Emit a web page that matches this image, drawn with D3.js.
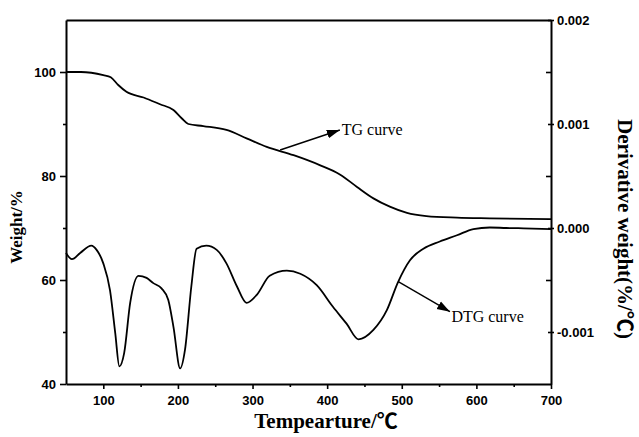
<!DOCTYPE html>
<html>
<head>
<meta charset="utf-8">
<script src="https://cdn.jsdelivr.net/npm/d3@7/dist/d3.min.js"></script>
<style>
  html, body { margin: 0; padding: 0; background: #fff; }
  svg { display: block; }
</style>
</head>
<body>
<svg id="chart" width="639" height="437"></svg>
<script>
// ---- Data ----
const tgTemp   = [50, 70, 100, 110, 120, 131, 154, 176, 194, 205, 214, 234, 265, 292, 319, 355, 390, 417, 440, 462, 484, 507, 533, 574, 618, 700];
const tgWeight = [100.0, 100.0, 99.4, 99.0, 97.5, 96.2, 95.1, 93.8, 92.7, 91.1, 90.0, 89.6, 88.85, 87.25, 85.6, 84.0, 82.1, 80.3, 77.9, 75.7, 74.1, 72.9, 72.3, 72.0, 71.87, 71.7];

const dtgTemp  = [50, 58, 69, 84, 91, 100, 109, 116, 121.5, 128, 136, 147, 158, 167, 178, 187, 194, 203, 209.5, 218, 225, 238, 252, 265, 279, 292, 306, 323, 346, 364, 386, 408, 426, 442, 462, 480, 495, 511, 529, 551, 574, 596, 618, 640, 663, 700];
const dtgValue = [-0.00024, -0.00030, -0.00024, -0.00017, -0.00021, -0.00034, -0.00060, -0.00101, -0.00133, -0.00120, -0.00072, -0.00046, -0.00048, -0.00053, -0.00058, -0.00069, -0.00095, -0.00135, -0.00117, -0.00056, -0.00020, -0.00017, -0.00021, -0.00034, -0.00056, -0.00072, -0.00064, -0.00046, -0.00041, -0.00044, -0.00055, -0.00076, -0.00092, -0.00107, -0.00098, -0.00079, -0.00052, -0.00031, -0.00020, -0.00013, -0.00007, -0.00001, 0.000005, 0.0, -0.000003, -0.00001];

const xTicks      = [100, 200, 300, 400, 500, 600, 700];
const xMinorTicks = [150, 250, 350, 450, 550, 650];
const yLTicks      = [40, 60, 80, 100];
const yLMinorTicks = [50, 70, 90];
const yRTicks      = [-0.001, 0.000, 0.001, 0.002];
const yRMinorTicks = [-0.0005, 0.0005, 0.0015];

const xTitle  = "Tempearture/℃";
const yLTitle = "Weight/%";
const yRTitle = "Derivative weight(%/℃)";

// annotation: arrow from (t0,v0) to (t1,v1), text at (tt,vt); axis = which y scale
const annoLabels = ["TG curve", "DTG curve"];
const annoAxis   = ["L", "R"];
const annoFrom   = [[337, 85.0], [495.3, -0.000516]];
const annoTo     = [[417, 88.85], [564.6, -0.000805]];
const annoText   = [[419.5, 87.9], [566.5, -0.000905]];

// ---- Layout ----
const svg = d3.select("#chart");
const mLeft = 66, mRight = 551, mTop = 20, mBottom = 384;

const x  = d3.scaleLinear().domain([50, 700]).range([mLeft, mRight]);
const yL = d3.scaleLinear().domain([40, 110]).range([mBottom, mTop]);
const yR = d3.scaleLinear().domain([-0.0015, 0.002]).range([mBottom, mTop]);

const tickFont = "'Liberation Sans', Arial, sans-serif";
const titleFont = "'Liberation Serif', 'Times New Roman', 'Noto Sans CJK SC', serif";

svg.append("defs").append("marker")
  .attr("id", "arrow")
  .attr("viewBox", "0 0 12 10")
  .attr("refX", 12).attr("refY", 5)
  .attr("markerWidth", 13).attr("markerHeight", 11)
  .attr("markerUnits", "userSpaceOnUse")
  .attr("orient", "auto")
  .append("path").attr("d", "M0,1 L12,5 L0,9 Z").attr("fill", "#000");

function styleAxis(g, fontSize) {
  g.selectAll(".domain").attr("stroke", "#000").attr("stroke-width", 2);
  g.selectAll(".tick line").attr("stroke", "#000").attr("stroke-width", 1.6);
  g.selectAll(".tick text")
    .attr("fill", "#000")
    .style("font-family", tickFont)
    .style("font-weight", "bold")
    .style("font-size", fontSize + "px");
}

// Bottom axis
const gx = svg.append("g").attr("transform", `translate(0,${mBottom})`)
  .call(d3.axisBottom(x).tickValues(xTicks).tickSize(5).tickPadding(7).tickSizeOuter(0).tickFormat(d3.format("d")));
styleAxis(gx, 13);
const gxm = svg.append("g").attr("transform", `translate(0,${mBottom})`)
  .call(d3.axisBottom(x).tickValues(xMinorTicks).tickSize(3).tickFormat(""));
gxm.select(".domain").remove();
styleAxis(gxm, 13);

// Left axis
const gl = svg.append("g").attr("transform", `translate(${mLeft},0)`)
  .call(d3.axisLeft(yL).tickValues(yLTicks).tickSize(6).tickPadding(4).tickSizeOuter(0).tickFormat(d3.format("d")));
styleAxis(gl, 13);
const glm = svg.append("g").attr("transform", `translate(${mLeft},0)`)
  .call(d3.axisLeft(yL).tickValues(yLMinorTicks).tickSize(3).tickFormat(""));
glm.select(".domain").remove();
styleAxis(glm, 13);

// Right axis
const gr = svg.append("g").attr("transform", `translate(${mRight},0)`)
  .call(d3.axisRight(yR).tickValues(yRTicks).tickSize(3).tickPadding(3).tickSizeOuter(0)
    .tickFormat(d => (Math.abs(d) < 1e-12 ? 0 : d).toFixed(3)));
styleAxis(gr, 13);
const grIn = svg.append("g").attr("transform", `translate(${mRight},0)`)
  .call(d3.axisLeft(yR).tickValues(yRTicks).tickSize(3).tickFormat(""));
grIn.select(".domain").remove();
styleAxis(grIn, 13);
const grm = svg.append("g").attr("transform", `translate(${mRight},0)`)
  .call(d3.axisLeft(yR).tickValues(yRMinorTicks).tickSize(5).tickFormat(""));
grm.select(".domain").remove();
styleAxis(grm, 13);

// Top frame
const gt = svg.append("g").attr("transform", `translate(0,${mTop})`)
  .call(d3.axisTop(x).tickValues([]).tickSizeOuter(0));
styleAxis(gt, 13);

// Curves
const tgData = tgTemp.map((t, i) => [t, tgWeight[i]]);
const dtgData = dtgTemp.map((t, i) => [t, dtgValue[i]]);

svg.append("path")
  .datum(tgData)
  .attr("fill", "none").attr("stroke", "#000").attr("stroke-width", 1.8)
  .attr("d", d3.line().x(d => x(d[0])).y(d => yL(d[1])).curve(d3.curveMonotoneX));

svg.append("path")
  .datum(dtgData)
  .attr("fill", "none").attr("stroke", "#000").attr("stroke-width", 1.8)
  .attr("d", d3.line().x(d => x(d[0])).y(d => yR(d[1])).curve(d3.curveMonotoneX));

// Annotations
annoLabels.forEach((lab, i) => {
  const ys = annoAxis[i] === "L" ? yL : yR;
  svg.append("line")
    .attr("x1", x(annoFrom[i][0])).attr("y1", ys(annoFrom[i][1]))
    .attr("x2", x(annoTo[i][0])).attr("y2", ys(annoTo[i][1]))
    .attr("stroke", "#000").attr("stroke-width", 1.4)
    .attr("marker-end", "url(#arrow)");
  svg.append("text")
    .attr("x", x(annoText[i][0])).attr("y", ys(annoText[i][1]))
    .attr("fill", "#000")
    .style("font-family", titleFont)
    .style("font-size", "16px")
    .text(lab);
});

// Titles
svg.append("text")
  .attr("x", 326).attr("y", 428)
  .attr("text-anchor", "middle")
  .style("font-family", titleFont).style("font-weight", "bold").style("font-size", "21px")
  .text(xTitle);

svg.append("text")
  .attr("transform", "translate(22,227) rotate(-90)")
  .attr("text-anchor", "middle")
  .style("font-family", titleFont).style("font-weight", "bold").style("font-size", "17px")
  .text(yLTitle);

svg.append("text")
  .attr("transform", "translate(618,229) rotate(90)")
  .attr("text-anchor", "middle")
  .style("font-family", titleFont).style("font-weight", "bold").style("font-size", "21px")
  .text(yRTitle);
</script>
</body>
</html>
